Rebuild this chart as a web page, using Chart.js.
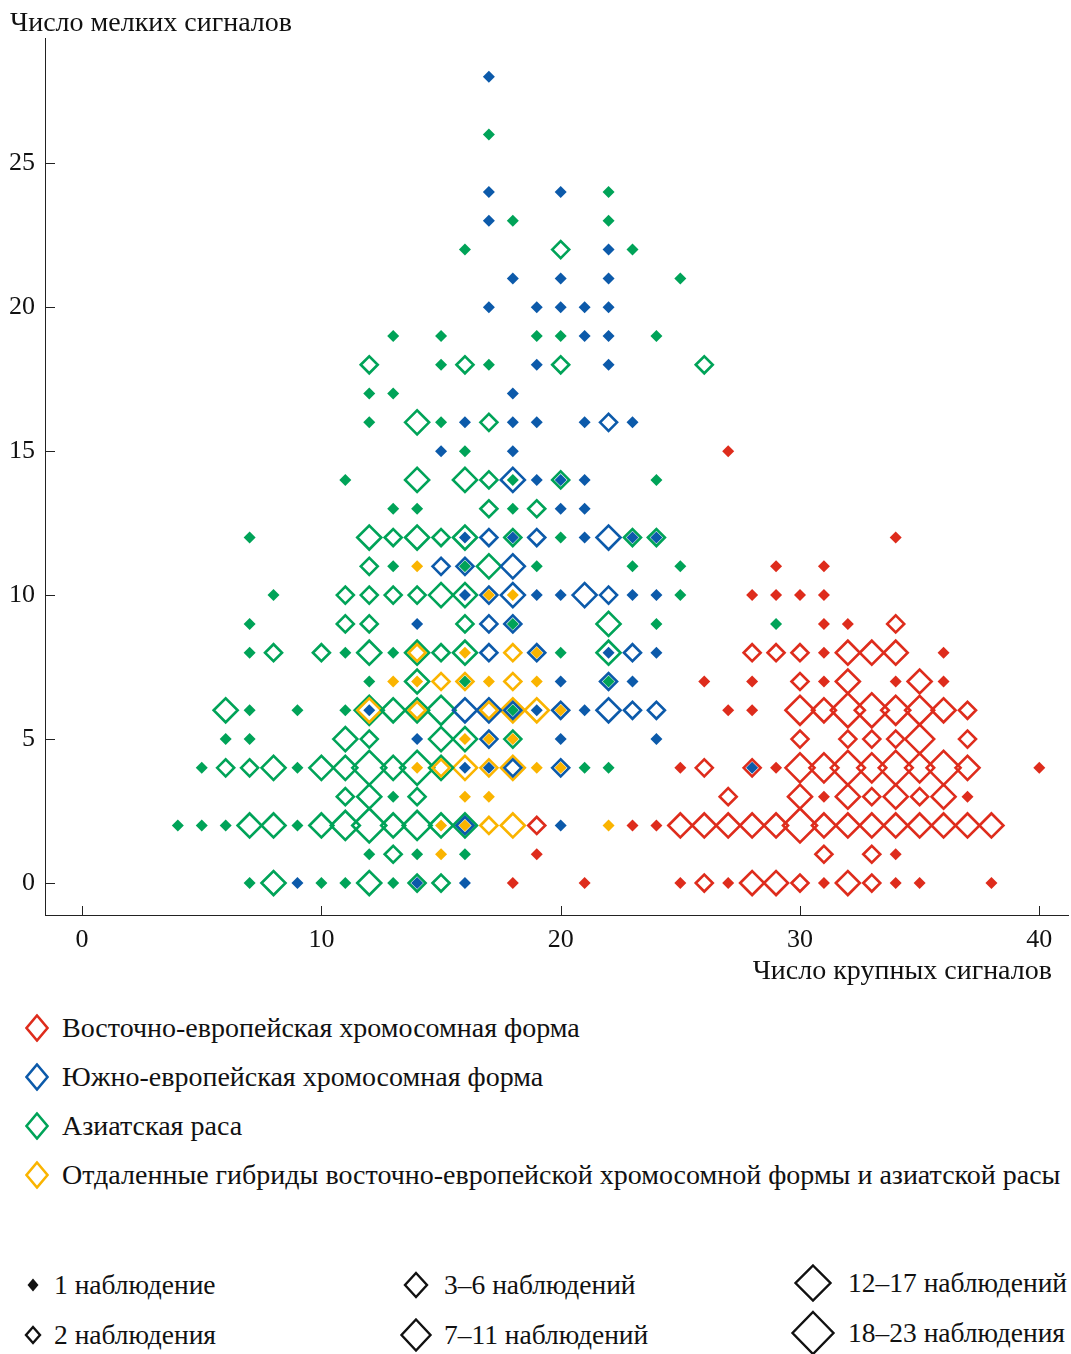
<!DOCTYPE html>
<html>
<head>
<meta charset="utf-8">
<script src="https://cdn.jsdelivr.net/npm/chart.js@4.4.1/dist/chart.umd.min.js"></script>
<style>
  body { margin: 0; background: #fff; font-family: "Liberation Serif", "Times New Roman", serif; color: #111; }
  #wrap { position: relative; width: 1071px; height: 1354px; overflow: hidden; }
  #plot { position: absolute; left: 0; top: 0; }
  .txt { position: absolute; font-size: 28px; line-height: 1; white-space: nowrap; transform: translateY(-50%); }
  .txt.small { font-size: 27.5px; }
  .mark { position: absolute; transform: translate(-50%, -50%); }
</style>
</head>
<body>
<div id="wrap">
  <canvas id="plot" width="1071" height="1000"></canvas>
</div>
<script>
// tick labels
const xTicks = [0, 10, 20, 30, 40];
const yTicks = [0, 5, 10, 15, 20, 25];

// observation bands (index 1..6 used in the point lists)
const bandLabels = ['1 наблюдение', '2 наблюдения', '3–6 наблюдений', '7–11 наблюдений', '12–17 наблюдений', '18–23 наблюдения'];

const seriesNames = [
  'Восточно-европейская хромосомная форма',
  'Южно-европейская хромосомная форма',
  'Азиатская раса',
  'Отдаленные гибриды восточно-европейской хромосомной формы и азиатской расы'
];

// [large signals, small signals, band]
const eastEuropean = [
  [27,15,1],[34,12,1],[29,11,1],[31,11,1],
  [28,10,1],[29,10,1],[30,10,1],[31,10,1],
  [31,9,1],[32,9,1],[34,9,2],
  [28,8,2],[29,8,2],[30,8,2],[31,8,1],[32,8,3],[33,8,3],[34,8,3],[36,8,1],
  [26,7,1],[28,7,1],[30,7,2],[31,7,1],[32,7,3],[34,7,1],[35,7,3],[36,7,1],
  [27,6,1],[28,6,1],[30,6,4],[31,6,3],[32,6,5],[33,6,5],[34,6,4],[35,6,4],[36,6,3],[37,6,2],
  [30,5,2],[32,5,2],[33,5,2],[34,5,2],[35,5,4],[37,5,2],
  [25,4,1],[26,4,2],[28,4,2],[29,4,1],[30,4,4],[31,4,4],[32,4,5],[33,4,4],[34,4,5],[35,4,4],[36,4,5],[37,4,3],[40,4,1],
  [27,3,2],[30,3,3],[31,3,1],[32,3,3],[33,3,2],[34,3,3],[35,3,2],[36,3,3],[37,3,1],
  [19,2,2],[23,2,1],[24,2,1],[25,2,3],[26,2,3],[27,2,3],[28,2,3],[29,2,3],[30,2,5],[31,2,3],[32,2,3],[33,2,3],[34,2,3],[35,2,3],[36,2,3],[37,2,3],[38,2,3],
  [19,1,1],[31,1,2],[33,1,2],[34,1,1],
  [18,0,1],[21,0,1],[25,0,1],[26,0,2],[27,0,1],[28,0,3],[29,0,3],[30,0,2],[31,0,1],[32,0,3],[33,0,2],[34,0,1],[35,0,1],[38,0,1]
];

const southEuropean = [
  [17,28,1],[17,24,1],[20,24,1],[17,23,1],[22,22,1],
  [18,21,1],[20,21,1],[22,21,1],
  [17,20,1],[19,20,1],[20,20,1],[21,20,1],[22,20,1],
  [21,19,1],[22,19,1],[19,18,1],[22,18,1],[18,17,1],
  [16,16,1],[18,16,1],[19,16,1],[21,16,1],[22,16,2],[23,16,1],
  [15,15,1],[18,15,1],
  [18,14,3],[19,14,1],[20,14,1],[21,14,1],
  [20,13,1],[21,13,1],
  [16,12,1],[17,12,2],[18,12,1],[19,12,2],[21,12,1],[22,12,3],[23,12,1],[24,12,1],
  [15,11,2],[16,11,2],[18,11,3],
  [16,10,1],[17,10,2],[18,10,3],[19,10,1],[20,10,1],[21,10,3],[22,10,2],[23,10,1],[24,10,1],
  [14,9,1],[17,9,2],[18,9,2],
  [17,8,2],[19,8,2],[22,8,1],[23,8,2],[24,8,1],
  [20,7,1],[22,7,2],[23,7,1],
  [12,6,1],[16,6,3],[17,6,3],[18,6,2],[19,6,1],[20,6,2],[21,6,1],[22,6,3],[23,6,2],[24,6,2],
  [14,5,1],[17,5,2],[20,5,1],[24,5,1],
  [16,4,1],[17,4,1],[18,4,2],[20,4,2],[28,4,1],
  [16,2,2],[20,2,1],
  [9,0,1],[14,0,1],[16,0,1]
];

const asian = [
  [17,26,1],[22,24,1],[18,23,1],[22,23,1],
  [16,22,1],[20,22,2],[23,22,1],
  [25,21,1],
  [13,19,1],[15,19,1],[19,19,1],[20,19,1],[24,19,1],
  [12,18,2],[15,18,1],[16,18,2],[17,18,1],[20,18,2],[26,18,2],
  [12,17,1],[13,17,1],
  [12,16,1],[14,16,3],[15,16,1],[17,16,2],
  [16,15,1],
  [11,14,1],[14,14,3],[16,14,3],[17,14,2],[18,14,1],[20,14,2],[24,14,1],
  [13,13,1],[14,13,1],[17,13,2],[18,13,1],[19,13,2],
  [7,12,1],[12,12,3],[13,12,2],[14,12,3],[15,12,2],[16,12,3],[18,12,2],[20,12,1],[23,12,2],[24,12,2],
  [12,11,2],[13,11,1],[16,11,1],[17,11,3],[19,11,1],[23,11,1],[25,11,1],
  [8,10,1],[11,10,2],[12,10,2],[13,10,2],[14,10,2],[15,10,3],[16,10,3],[25,10,1],
  [7,9,1],[11,9,2],[12,9,2],[16,9,2],[18,9,1],[22,9,3],[24,9,1],[29,9,1],
  [7,8,1],[8,8,2],[10,8,2],[11,8,1],[12,8,3],[13,8,1],[14,8,3],[15,8,2],[16,8,3],[20,8,1],[22,8,3],
  [12,7,1],[14,7,3],[16,7,1],[22,7,1],
  [6,6,3],[7,6,1],[9,6,1],[11,6,1],[12,6,4],[13,6,3],[14,6,3],[15,6,4],[18,6,1],
  [6,5,1],[7,5,1],[11,5,3],[12,5,2],[15,5,3],[16,5,3],[18,5,2],
  [5,4,1],[6,4,2],[7,4,2],[8,4,3],[9,4,1],[10,4,3],[11,4,3],[12,4,5],[13,4,3],[14,4,5],[15,4,3],[21,4,1],[22,4,1],
  [11,3,2],[12,3,3],[13,3,1],[14,3,2],
  [4,2,1],[5,2,1],[6,2,1],[7,2,3],[8,2,3],[9,2,1],[10,2,3],[11,2,4],[12,2,5],[13,2,3],[14,2,4],[15,2,3],[16,2,3],
  [12,1,1],[13,1,2],[14,1,1],[16,1,1],
  [7,0,1],[8,0,3],[10,0,1],[11,0,1],[12,0,3],[13,0,1],[14,0,2],[15,0,2]
];

const hybrids = [
  [14,11,1],
  [17,10,1],[18,10,1],
  [14,8,2],[16,8,1],[18,8,2],[19,8,1],
  [13,7,1],[14,7,1],[15,7,2],[16,7,2],[17,7,1],[18,7,2],[19,7,1],
  [12,6,3],[14,6,2],[17,6,2],[18,6,3],[19,6,3],[20,6,1],
  [16,5,1],[17,5,1],[18,5,1],
  [14,4,1],[15,4,2],[16,4,3],[17,4,2],[18,4,3],[19,4,1],[20,4,1],
  [16,3,1],[17,3,1],
  [15,2,1],[16,2,1],[17,2,2],[18,2,3],[22,2,1],
  [15,1,1]
];

// styles
const colors = ['rgb(222,44,28)', 'rgb(12,90,170)', 'rgb(0,163,88)', 'rgb(250,180,0)'];
const bandRadius = [0, 6, 8.5, 12, 14.5, 17, 20];
const allSeries = [eastEuropean, southEuropean, asian, hybrids];

const datasets = [];
allSeries.forEach((pts, s) => {
  for (let b = 1; b <= 6; b++) {
    const data = pts.filter(p => p[2] === b).map(p => ({ x: p[0], y: p[1] }));
    if (!data.length) continue;
    datasets.push({
      label: seriesNames[s] + ' ' + bandLabels[b - 1],
      data: data,
      order: b,
      pointStyle: 'rectRot',
      pointRadius: bandRadius[b],
      pointBackgroundColor: b === 1 ? colors[s] : 'rgba(0,0,0,0)',
      pointBorderColor: colors[s],
      pointBorderWidth: b === 1 ? 0 : 2.6
    });
  }
});

const innerTicks = {
  id: 'innerTicks',
  afterDraw(chart) {
    const { ctx, chartArea: a, scales: { x, y } } = chart;
    ctx.save();
    ctx.strokeStyle = '#222';
    ctx.lineWidth = 1;
    ctx.beginPath();
    xTicks.forEach(v => {
      const px = Math.round(x.getPixelForValue(v)) + 0.5;
      ctx.moveTo(px, a.bottom);
      ctx.lineTo(px, a.bottom - 9);
    });
    yTicks.forEach(v => {
      const py = Math.round(y.getPixelForValue(v)) + 0.5;
      ctx.moveTo(a.left, py);
      ctx.lineTo(a.left + 10, py);
    });
    ctx.stroke();
    ctx.restore();
  }
};

const tickFont = { family: 'Liberation Serif', size: 26 };

new Chart(document.getElementById('plot'), {
  type: 'scatter',
  data: { datasets: datasets },
  options: {
    responsive: false,
    animation: false,
    events: [],
    layout: { autoPadding: false, padding: { left: 0, top: 38, right: 3, bottom: 0 } },
    plugins: { legend: { display: false }, tooltip: { enabled: false } },
    scales: {
      x: {
        type: 'linear',
        min: -1.55,
        max: 41.2,
        grid: { display: false, drawTicks: false },
        border: { display: true, color: '#222', width: 1 },
        ticks: { font: tickFont, color: '#111', padding: 10, maxRotation: 0 },
        afterBuildTicks: s => { s.ticks = xTicks.map(v => ({ value: v })); },
        afterFit: s => { s.height = 85; s.paddingLeft = 0; s.paddingRight = 0; }
      },
      y: {
        type: 'linear',
        min: -1.11,
        max: 29.35,
        grid: { display: false, drawTicks: false },
        border: { display: true, color: '#222', width: 1 },
        ticks: { font: tickFont, color: '#111', padding: 10 },
        afterBuildTicks: s => { s.ticks = yTicks.map(v => ({ value: v })); },
        afterFit: s => { s.width = 45; s.paddingTop = 0; s.paddingBottom = 0; }
      }
    }
  },
  plugins: [innerTicks]
});

// axis titles and legends as html text
const wrap = document.getElementById('wrap');
function addText(str, left, top, right, cls) {
  const d = document.createElement('div');
  d.className = 'txt' + (cls ? ' ' + cls : '');
  d.textContent = str;
  if (right !== undefined) d.style.right = right + 'px'; else d.style.left = left + 'px';
  d.style.top = top + 'px';
  wrap.appendChild(d);
}
function addDiamond(cx, cy, w, h, color, filled, sw) {
  const ns = 'http://www.w3.org/2000/svg';
  const svg = document.createElementNS(ns, 'svg');
  svg.setAttribute('width', w + 4);
  svg.setAttribute('height', h + 4);
  svg.setAttribute('class', 'mark');
  svg.style.left = cx + 'px';
  svg.style.top = cy + 'px';
  const p = document.createElementNS(ns, 'polygon');
  const mx = (w + 4) / 2, my = (h + 4) / 2;
  p.setAttribute('points', `${mx},${my - h / 2} ${mx + w / 2},${my} ${mx},${my + h / 2} ${mx - w / 2},${my}`);
  p.setAttribute('fill', filled ? color : 'none');
  p.setAttribute('stroke', color);
  p.setAttribute('stroke-width', filled ? 0 : sw);
  svg.appendChild(p);
  wrap.appendChild(svg);
}

addText('Число мелких сигналов', 10, 22);
addText('Число крупных сигналов', 0, 970, 19);

const seriesRowsY = [1028, 1077, 1126, 1175];
seriesNames.forEach((name, i) => {
  addDiamond(37, seriesRowsY[i], 21, 25, colors[i], false, 2.6);
  addText(name, 62, seriesRowsY[i]);
});

// size legend: [diamond cx, cy, w, h, text x]
const sizeLegendPos = [
  [33, 1285, 11, 13, 54], [33, 1335, 14, 16, 54],
  [416, 1285, 22, 24, 444], [416, 1335, 29, 31, 444],
  [813, 1283, 35, 35, 848], [813, 1333, 41, 42, 848]
];
bandLabels.forEach((lab, i) => {
  const p = sizeLegendPos[i];
  addDiamond(p[0], p[1], p[2], p[3], '#111', i === 0, 2.4);
  addText(lab, p[4], p[1], undefined, 'small');
});
</script>
</body>
</html>
